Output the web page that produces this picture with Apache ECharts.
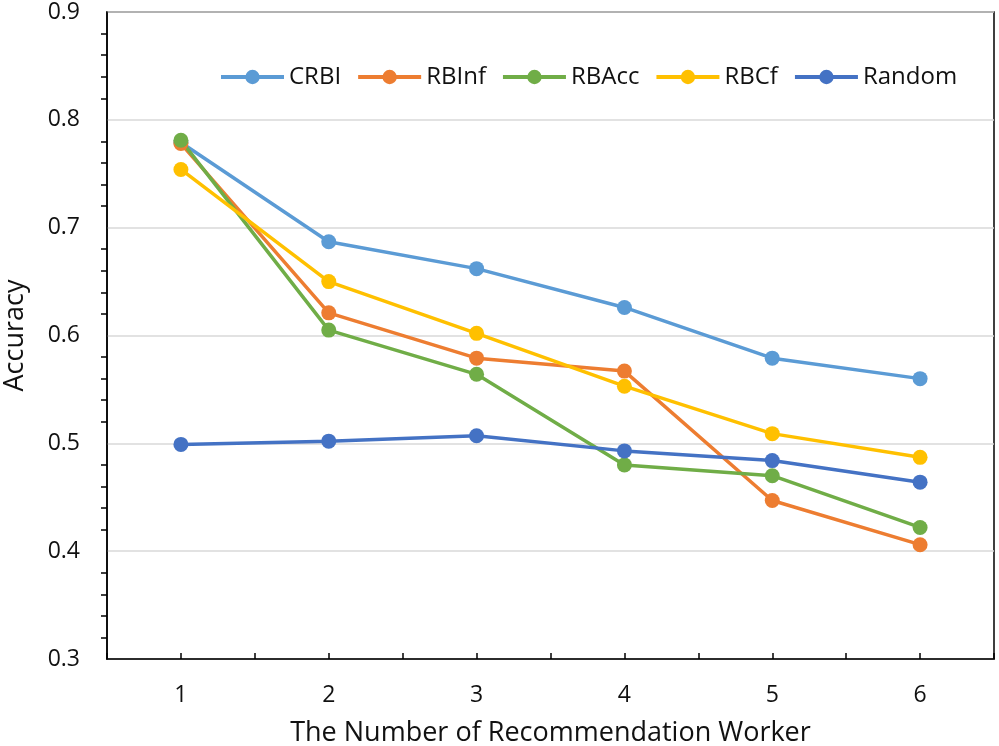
<!DOCTYPE html>
<html>
<head>
<meta charset="utf-8">
<script src="https://cdn.jsdelivr.net/npm/echarts@6/dist/echarts.min.js"></script>
<style>html,body{margin:0;padding:0;background:#fff}#c{width:999px;height:746px}</style>
</head>
<body>
<div id="c"></div>
<script>
var categories = [1, 2, 3, 4, 5, 6];
var seriesNames = ['CRBI', 'RBInf', 'RBAcc', 'RBCf', 'Random'];
var CRBI = [0.779, 0.687, 0.662, 0.626, 0.579, 0.560];
var RBInf = [0.778, 0.621, 0.579, 0.567, 0.447, 0.406];
var RBAcc = [0.781, 0.605, 0.564, 0.480, 0.470, 0.422];
var RBCf = [0.754, 0.650, 0.602, 0.553, 0.509, 0.487];
var Random = [0.499, 0.502, 0.507, 0.493, 0.484, 0.464];
var colors = ['#5B9BD5', '#ED7D31', '#70AD47', '#FFC000', '#4472C4'];
var values = [CRBI, RBInf, RBAcc, RBCf, Random];

var font = 'Open Sans';
var txt = '#111';
var chart = echarts.init(document.getElementById('c'));
chart.setOption({
  animation: false,
  textStyle: {fontFamily: font},
  grid: {left: 107, right: 5, top: 12, bottom: 87, show: true, borderColor: '#000', borderWidth: 1.5, backgroundColor: 'transparent', containLabel: false, outerBoundsMode: 'none'},
  legend: {
    data: seriesNames,
    left: 214, top: 60,
    itemWidth: 63, itemHeight: 18, itemGap: 15,
    lineStyle: {width: 4},
    textStyle: {fontSize: 24, color: txt, fontFamily: font}
  },
  xAxis: {
    type: 'value', min: 0.5, max: 6.5, interval: 0.5,
    name: 'The Number of Recommendation Worker', nameLocation: 'middle', nameGap: 61,
    nameTextStyle: {fontSize: 27, color: txt, fontFamily: font},
    axisLine: {lineStyle: {color: '#000', width: 1.5}},
    axisTick: {show: true, inside: true, length: 6, lineStyle: {color: '#000', width: 1.5}},
    axisLabel: {fontSize: 23, color: txt, margin: 25, formatter: function (v) { return Number.isInteger(v) && categories.indexOf(v) >= 0 ? String(v) : ''; }},
    splitLine: {show: false}
  },
  yAxis: {
    type: 'value', min: 0.3, max: 0.9, interval: 0.1,
    name: 'Accuracy', nameLocation: 'middle', nameGap: 78, nameRotate: 90,
    nameTextStyle: {fontSize: 27, color: txt, fontFamily: font},
    axisLine: {show: true, lineStyle: {color: '#000', width: 1.5}},
    axisTick: {show: false},
    minorTick: {show: true, splitNumber: 5, length: 6, lineStyle: {color: '#000', width: 1.5}},
    axisLabel: {fontSize: 23, color: txt, margin: 27, formatter: function (v) { return v.toFixed(1); }},
    splitLine: {show: true, lineStyle: {color: '#d9d9d9', width: 1.5}}
  },
  series: seriesNames.map(function (n, i) {
    return {
      name: n, type: 'line',
      data: categories.map(function (c, j) { return [c, values[i][j]]; }),
      symbol: 'circle', symbolSize: 15,
      lineStyle: {width: 3.5, color: colors[i]},
      itemStyle: {color: colors[i]}
    };
  })
});
</script>
</body>
</html>
